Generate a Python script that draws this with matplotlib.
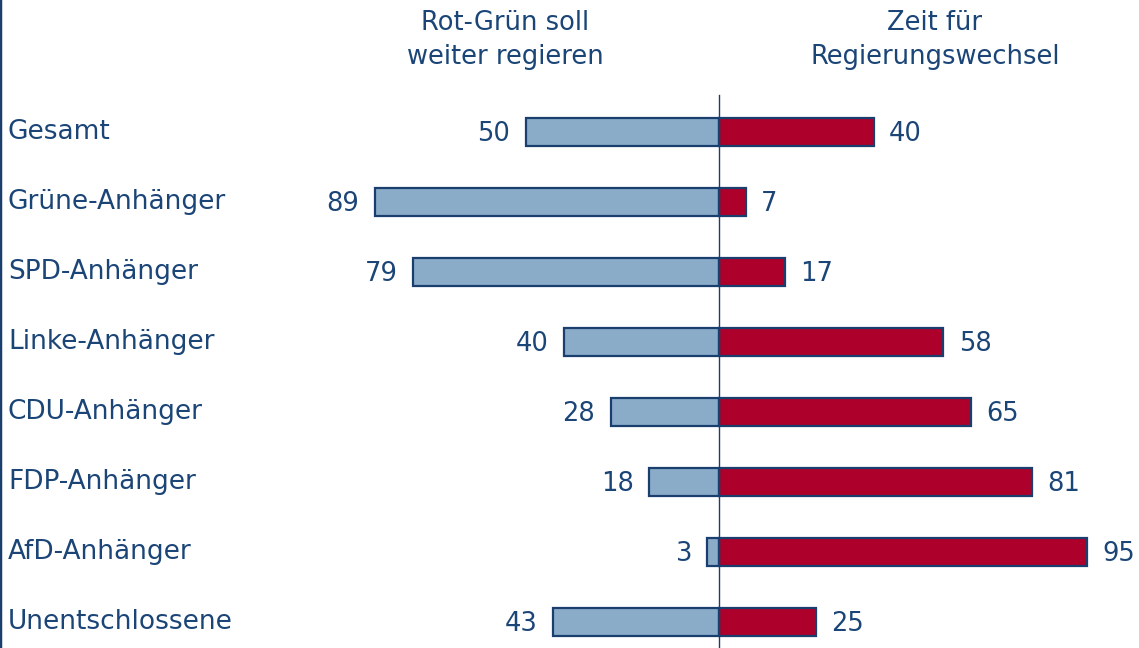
import matplotlib
matplotlib.use("Agg")
import matplotlib.pyplot as plt

groups = ["Gesamt", "Grüne-Anhänger", "SPD-Anhänger", "Linke-Anhänger",
          "CDU-Anhänger", "FDP-Anhänger", "AfD-Anhänger", "Unentschlossene"]
weiter = [50, 89, 79, 40, 28, 18, 3, 43]        # Rot-Grün soll weiter regieren
wechsel = [40, 7, 17, 58, 65, 81, 95, 25]       # Zeit für Regierungswechsel
head_left = "Rot-Grün soll\nweiter regieren"
head_right = "Zeit für\nRegierungswechsel"

TXT = "#1b4577"
EDGE = "#1a3f6e"
BLUE = "#8aacc8"
RED = "#ad002a"
FS = 18.5

fig = plt.figure(figsize=(11.39, 6.48), dpi=100)
ax = fig.add_axes([0, 0, 1, 1])
ppu = 3.87  # pixels per percent
ax.set_xlim(-719 / ppu, 420 / ppu)
ax.set_ylim((648 - 132) / 70, -132 / 70)

ys = list(range(len(groups)))
ax.barh(ys, [-v for v in weiter], height=0.41, color=BLUE, edgecolor=EDGE, linewidth=1.6, zorder=2)
ax.barh(ys, wechsel, height=0.41, color=RED, edgecolor=EDGE, linewidth=1.6, zorder=2)
ax.axvline(0, ymin=0, ymax=1 - 95 / 648, color=EDGE, lw=1.0, zorder=3)

for y, g, l, r in zip(ys, groups, weiter, wechsel):
    ax.text(0.007, y, g, transform=ax.get_yaxis_transform(), ha="left", va="center",
            fontsize=19, color=TXT)
    ax.annotate(f"{l}", (-l, y), xytext=(-11, -1.5), textcoords="offset points",
                ha="right", va="center", fontsize=FS, color=TXT)
    ax.annotate(f"{r}", (r, y), xytext=(11, -1.5), textcoords="offset points",
                ha="left", va="center", fontsize=FS, color=TXT)

ax.text(505 / 1139, 1 - 40 / 648, head_left, transform=ax.transAxes, ha="center", va="center",
        fontsize=FS, color=TXT, linespacing=1.35)
ax.text(935 / 1139, 1 - 40 / 648, head_right, transform=ax.transAxes, ha="center", va="center",
        fontsize=FS, color=TXT, linespacing=1.35)

for sp in ("top", "right", "bottom"):
    ax.spines[sp].set_visible(False)
ax.spines["left"].set_color(EDGE)
ax.spines["left"].set_linewidth(2.5)
ax.set_xticks([]); ax.set_yticks([])

fig.savefig("out.png", dpi=100)
